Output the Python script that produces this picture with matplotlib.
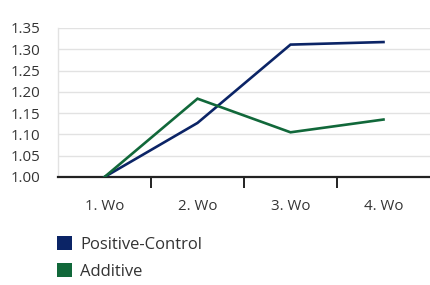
import matplotlib
matplotlib.use("Agg")
import matplotlib.pyplot as plt
from matplotlib.patches import Patch

categories = ["1. Wo", "2. Wo", "3. Wo", "4. Wo"]
positive_control = [1.00, 1.127, 1.311, 1.317]
additive = [1.00, 1.184, 1.105, 1.135]
y_ticks = [1.00, 1.05, 1.10, 1.15, 1.20, 1.25, 1.30, 1.35]
y_tick_labels = ["1.00", "1.05", "1.10", "1.15", "1.20", "1.25", "1.30", "1.35"]

navy = "#0b2466"
green = "#11683a"
txt = "#333333"

plt.rcParams['font.family'] = ['Open Sans', 'DejaVu Sans']

fig = plt.figure(figsize=(4.30, 2.85), dpi=100)
ax = fig.add_axes([58/430, 1 - 177/285, 372/430, (177 - 28)/285])

x = list(range(len(categories)))
ax.plot(x, positive_control, color=navy, lw=1.9, solid_joinstyle='miter', zorder=3)
ax.plot(x, additive, color=green, lw=1.9, solid_joinstyle='miter', zorder=3)

ax.set_xlim(-0.5, len(categories) - 0.5)
ax.set_ylim(1.00, 1.35)
ax.set_yticks(y_ticks)
ax.set_yticklabels(y_tick_labels, fontsize=10.8, color=txt)
for lab in ax.get_yticklabels():
    lab.set_horizontalalignment('left')
ax.tick_params(axis='y', length=0, pad=34)
ax.yaxis.grid(True, color="#e2e2e2", lw=1.0)
ax.set_axisbelow(True)

ax.set_xticks([0.5, 1.5, 2.5])
ax.set_xticklabels([])
ax.set_xticks(x, minor=True)
ax.set_xticklabels(categories, minor=True, fontsize=10.8, color=txt)
ax.tick_params(axis='x', which='major', length=8, width=1.4, color="#222222", direction='out')
ax.tick_params(axis='x', which='minor', length=0, pad=16)

for s in ['top', 'right']:
    ax.spines[s].set_visible(False)
ax.spines['left'].set_color("#e2e2e2")
ax.spines['left'].set_linewidth(1.0)
ax.spines['bottom'].set_color("#222222")
ax.spines['bottom'].set_linewidth(1.6)

handles = [Patch(facecolor=navy, edgecolor='none', label="Positive-Control"),
           Patch(facecolor=green, edgecolor='none', label="Additive")]
leg = fig.legend(handles=handles, loc='upper left',
                 bbox_to_anchor=(57/430, 1 - 236/285), bbox_transform=fig.transFigure,
                 frameon=False, fontsize=12, handlelength=0.9, handleheight=0.9,
                 handletextpad=0.5, labelspacing=0.62, borderpad=0, borderaxespad=0)
for t in leg.get_texts():
    t.set_color(txt)

fig.savefig("out.png", dpi=100)
